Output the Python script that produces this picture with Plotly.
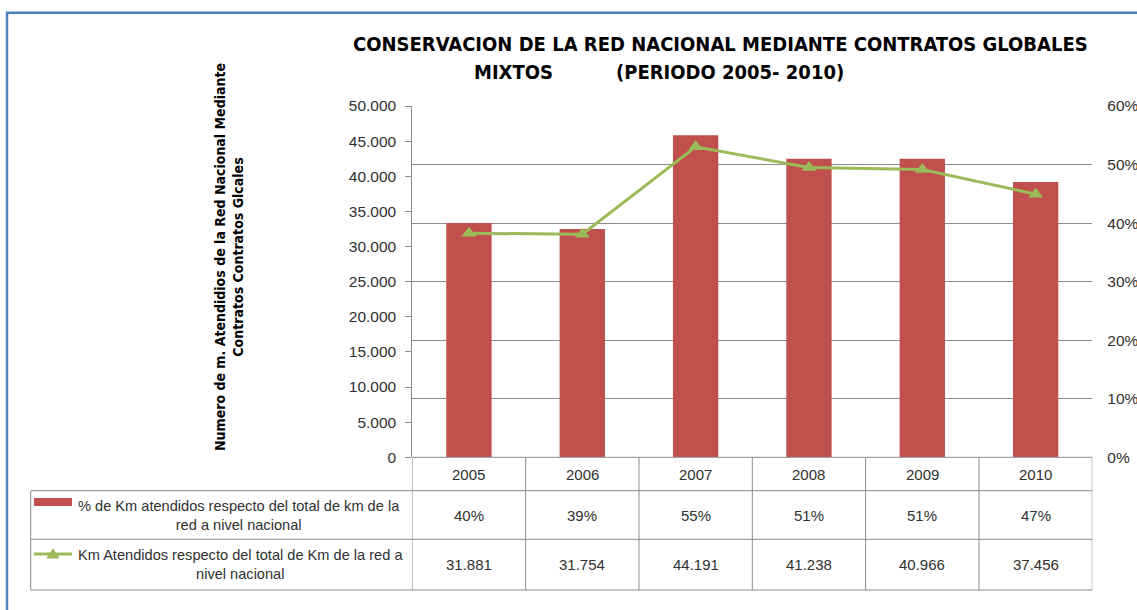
import plotly.graph_objects as go

years = ["2005", "2006", "2007", "2008", "2009", "2010"]
pct_km = [0.40, 0.39, 0.55, 0.51, 0.51, 0.47]
km_atendidos = [31881, 31754, 44191, 41238, 40966, 37456]
pct_labels = ["40%", "39%", "55%", "51%", "51%", "47%"]
km_labels = ["31.881", "31.754", "44.191", "41.238", "40.966", "37.456"]
series_names = ["% de Km atendidos respecto del total de km de la<br>red a nivel nacional",
                "Km Atendidos respecto del total de Km de la red a<br>nivel nacional"]

W, H = 1137, 610
NARROW = "DejaVu Sans Condensed, Liberation Sans Narrow, sans-serif"
SANS = "Liberation Sans, Arial, sans-serif"
BAR = "#C0504D"
LINE = "#9BBB59"
GRID = "#8C8C8C"
TXT = "#303030"

def px(x):
    return x / W

def py(y):
    return 1 - y / H

plot_l, plot_r, plot_t, plot_b = 412.3, 1092.3, 106.0, 457.3
row1, row2, row3 = 490.7, 539.3, 590.0
tab_l = 30.7

fig = go.Figure()
# bars on the percentage axis (right side), line on the km axis (left side, overlaying -> drawn on top)
fig.add_trace(go.Bar(x=list(range(6)), y=pct_km, yaxis="y", marker=dict(color=BAR, line=dict(width=0)),
                     width=0.4, name="pct"))
fig.add_trace(go.Scatter(x=list(range(6)), y=km_atendidos, yaxis="y2", mode="lines+markers",
                         line=dict(color=LINE, width=3),
                         marker=dict(symbol="triangle-up", size=13, color=LINE), name="km"))

shapes = []
shapes.append(dict(type="rect", xref="paper", yref="paper", x0=px(7), x1=1.05, y0=-0.05, y1=py(12.7),
                   line=dict(color="#4F81BD", width=2.5), layer="below"))
for yy, xl in [(plot_b, plot_l), (row1, tab_l), (row2, tab_l), (row3, tab_l)]:
    shapes.append(dict(type="line", xref="paper", yref="paper", x0=px(xl), x1=px(plot_r), y0=py(yy), y1=py(yy),
                       line=dict(color=GRID, width=1)))
for i in range(7):
    shapes.append(dict(type="line", xref="x", yref="paper", x0=i - 0.5, x1=i - 0.5, y0=py(plot_b), y1=py(row3),
                       line=dict(color=GRID, width=1)))
shapes.append(dict(type="line", xref="paper", yref="paper", x0=px(tab_l), x1=px(tab_l), y0=py(row1), y1=py(row3),
                   line=dict(color=GRID, width=1)))
shapes.append(dict(type="rect", xref="paper", yref="paper", x0=px(34), x1=px(72), y0=py(506), y1=py(498),
                   fillcolor=BAR, line=dict(width=0)))
shapes.append(dict(type="line", xref="paper", yref="paper", x0=px(34), x1=px(72), y0=py(554), y1=py(554),
                   line=dict(color=LINE, width=3)))
shapes.append(dict(type="path", xref="paper", yref="paper",
                   path=f"M {px(47)} {py(558)} L {px(59)} {py(558)} L {px(53)} {py(549)} Z",
                   fillcolor=LINE, line=dict(color=LINE, width=1)))

def A(text, x, y, size, family, color=TXT, xref="paper", **kw):
    d = dict(text=text, x=x, y=y, xref=xref, yref="paper", showarrow=False, xanchor="center",
             yanchor="middle", font=dict(size=size, family=family, color=color))
    d.update(kw)
    return d

ann = []
ann.append(A("<b>CONSERVACION DE LA RED NACIONAL MEDIANTE CONTRATOS GLOBALES</b>", px(720), py(44), 20, NARROW, "#000"))
ann.append(A("<b>MIXTOS</b>", px(513), py(72), 20, NARROW, "#000"))
ann.append(A("<b>(PERIODO 2005- 2010)</b>", px(730), py(72), 20, NARROW, "#000"))
ann.append(A("<b>Numero de m. Atendidios de la Red Nacional Mediante<br>Contratos Contratos Glcales</b>",
             px(229), py(257), 14, NARROW, "#000", textangle=-90))
for i, y in enumerate(years):
    ann.append(A(y, i, py((plot_b + row1) / 2), 15, SANS, xref="x"))
    ann.append(A(pct_labels[i], i, py((row1 + row2) / 2), 15, SANS, xref="x"))
    ann.append(A(km_labels[i], i, py((row2 + row3) / 2), 15, SANS, xref="x"))
ann.append(A(series_names[0], px(239), py((row1 + row2) / 2), 14.6, SANS, align="center"))
ann.append(A(series_names[1], px(240), py((row2 + row3) / 2), 14.6, SANS, align="center"))

fig.update_layout(
    width=W, height=H, margin=dict(l=0, r=0, t=0, b=0, autoexpand=False),
    paper_bgcolor="white", plot_bgcolor="white",
    separators=",.",
    showlegend=False,
    font=dict(family=SANS, size=15, color=TXT),
    xaxis=dict(domain=[px(plot_l), px(plot_r)], range=[-0.5, 5.5], showticklabels=False, showgrid=False,
               zeroline=False, showline=False, ticks="", automargin=False),
    yaxis=dict(domain=[py(plot_b), py(plot_t)], side="right", range=[0, 0.6], dtick=0.1, tickformat=".0%",
               showgrid=True, gridcolor=GRID, gridwidth=1, zeroline=False, showline=False, automargin=False,
               ticks="", ticklabelstandoff=14, tickfont=dict(size=15.5, family=SANS, color=TXT)),
    yaxis2=dict(overlaying="y", side="left", range=[0, 50000], dtick=5000, tickformat=",d",
                showgrid=False, zeroline=False, showline=True, linecolor=GRID, linewidth=1,
                ticks="outside", ticklen=6, tickcolor=GRID, ticklabelstandoff=6, automargin=False,
                tickfont=dict(size=15.5, family=SANS, color=TXT)),
    shapes=shapes, annotations=ann, bargap=0.6,
)
fig.write_html("out.html", config={"displayModeBar": False},
               post_script="document.body.style.margin='0';document.body.style.overflow='hidden';")
